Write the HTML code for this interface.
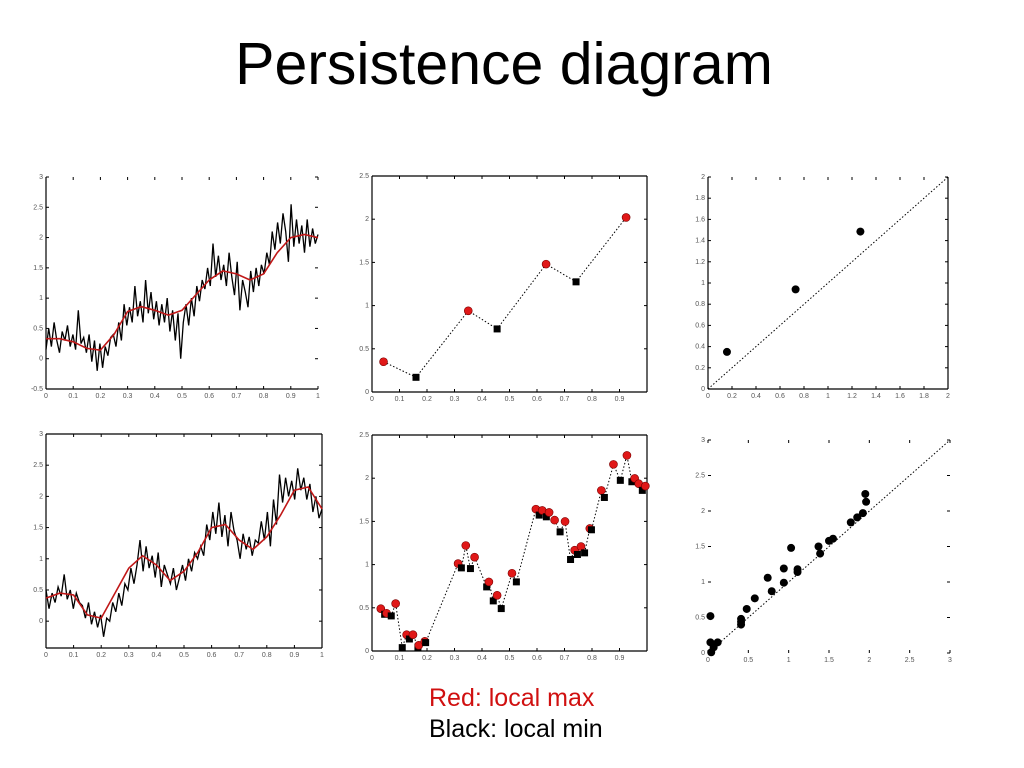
<!DOCTYPE html>
<html><head><meta charset="utf-8"><style>
body{margin:0;background:#fff;width:1024px;height:768px;overflow:hidden;font-family:"Liberation Sans",sans-serif}
svg{position:absolute;left:0;top:0}
</style></head><body>
<svg id="s" width="1024" height="768">
<text x="504" y="84" font-size="59" text-anchor="middle" fill="#000" font-family="Liberation Sans, sans-serif">Persistence diagram</text>
<text x="429" y="706" font-size="25" fill="#d01010" font-family="Liberation Sans, sans-serif">Red: local max</text>
<text x="429" y="737" font-size="25" fill="#000" font-family="Liberation Sans, sans-serif">Black: local min</text>
</svg>
<script>
// ---- data ----
const smooth1 = [0.33,0.33,0.28,0.17,0.14,0.4,0.78,0.86,0.8,0.72,0.8,1.05,1.3,1.45,1.4,1.3,1.4,1.75,2.0,2.05,2.0];
const noisy1 = [0.15,0.5,0.2,0.6,0.3,0.1,0.45,0.3,0.55,0.2,0.4,
0.15,0.8,0.25,0.35,0.1,0.4,-0.05,0.3,-0.2,0.25,
-0.15,0.2,0.05,0.35,0.4,0.2,0.6,0.3,0.9,0.55,
0.85,0.6,1.2,0.7,0.95,0.6,1.3,0.75,1.1,0.65,
0.95,0.55,0.9,0.6,1.0,0.45,0.8,0.3,0.75,0.0,
0.6,0.9,0.55,1.0,0.7,1.2,0.95,1.3,1.15,1.5,
1.2,1.9,1.35,1.7,1.3,1.55,1.2,1.75,1.35,1.05,
1.6,0.8,1.3,1.1,0.85,1.45,1.1,1.5,1.2,1.55,
1.4,1.75,1.55,2.1,1.8,2.25,1.9,2.4,2.1,1.6,
2.55,1.85,2.3,1.9,2.2,1.75,2.3,1.85,2.15,1.9,2.05];
const smooth4 = [0.37,0.45,0.42,0.1,0.05,0.45,0.85,1.05,0.9,0.65,0.8,1.1,1.5,1.55,1.3,1.15,1.35,1.7,2.1,2.15,1.8];
const noisy4 = [0.5,0.2,0.45,0.3,0.55,0.4,0.75,0.35,0.5,0.2,0.45,
0.3,0.25,0.05,0.3,-0.05,0.15,-0.1,0.1,-0.25,0.05,
0.0,0.3,0.15,0.45,0.25,0.6,0.5,0.85,0.6,0.9,
1.3,0.8,1.2,0.85,1.05,0.7,1.1,0.55,0.9,0.75,
0.6,0.85,0.5,0.7,0.9,0.65,1.0,0.8,1.1,1.0,
1.2,1.05,1.55,1.3,1.75,1.4,1.9,1.35,1.7,1.2,
1.75,1.45,1.3,1.0,1.4,1.15,1.35,1.05,1.3,1.25,
1.6,1.3,1.75,1.2,1.95,1.55,2.35,1.9,2.3,2.0,
2.25,1.95,2.45,2.1,2.3,1.95,2.2,1.75,2.0,1.65,1.8];
const ext2Type = ['R','B','R','B','R','B','R'];
const ext2X = [0.042,0.16,0.35,0.455,0.633,0.742,0.924];
const ext2Y = [0.35,0.17,0.94,0.73,1.48,1.275,2.02];
const ext5Type = ['R','B','R','B','R','B','R','B','R','B','R','R','B','R','B','R','B','R','B','R','B','R','B','R','B','R','B','R','B','R','R','B','R','B','R','B','R','B','R','B','R','B','R','B','R','B','R','R','B','R'];
const ext5X = [0.032,0.046,0.053,0.070,0.086,0.110,0.126,0.136,0.149,0.167,0.170,0.192,0.195,0.313,0.325,0.341,0.358,0.373,0.417,0.425,0.441,0.455,0.470,0.509,0.525,0.596,0.608,0.619,0.634,0.644,0.664,0.684,0.702,0.722,0.737,0.747,0.760,0.773,0.792,0.798,0.834,0.845,0.878,0.903,0.927,0.945,0.955,0.970,0.983,0.994];
const ext5Y = [0.49,0.425,0.437,0.406,0.549,0.039,0.189,0.139,0.189,0.046,0.066,0.112,0.097,1.012,0.962,1.221,0.954,1.086,0.742,0.800,0.580,0.645,0.491,0.900,0.800,1.642,1.573,1.627,1.553,1.604,1.515,1.379,1.499,1.059,1.167,1.117,1.209,1.136,1.418,1.403,1.859,1.777,2.160,1.975,2.264,1.959,1.998,1.936,1.859,1.909];
const birth3 = [0.158,0.73,1.27];
const death3 = [0.35,0.94,1.485];
const birth6 = [0.03,0.03,0.04,0.07,0.12,0.41,0.41,0.41,0.48,0.58,0.74,0.79,0.94,0.94,1.03,1.11,1.11,1.37,1.39,1.50,1.55,1.77,1.85,1.92,1.95,1.96];
const death6 = [0.52,0.15,0.01,0.08,0.15,0.48,0.40,0.44,0.62,0.77,1.06,0.87,1.19,0.99,1.48,1.18,1.14,1.50,1.40,1.58,1.61,1.84,1.91,1.97,2.24,2.13];
const ticks01 = [0,0.1,0.2,0.3,0.4,0.5,0.6,0.7,0.8,0.9,1];
const ticksY1 = [-0.5,0,0.5,1,1.5,2,2.5,3];
const ticksY2 = [0,0.5,1,1.5,2,2.5];
const ticks02 = [0,0.2,0.4,0.6,0.8,1,1.2,1.4,1.6,1.8,2];
const ticksY4 = [0,0.5,1,1.5,2,2.5,3];
const ticks03 = [0,0.5,1,1.5,2,2.5,3];

const NS='http://www.w3.org/2000/svg';
const svg=document.getElementById('s');
function mk(tag,attrs,parent){const e=document.createElementNS(NS,tag);for(const k in attrs)e.setAttribute(k,attrs[k]);(parent||svg).appendChild(e);return e;}
function panel(name,L,R,T,B,x0,x1,y0,y1,box){
  const g=mk('g',{});
  
  
  const sx=v=>L+(v-x0)/(x1-x0)*(R-L), sy=v=>B-(v-y0)/(y1-y0)*(B-T);
  const sides={l:[L,T,L,B],b:[L,B,R,B],r:[R,T,R,B],t:[L,T,R,T]};
  for(const s of box){const c=sides[s];const ln=mk('line',{x1:c[0],y1:c[1],x2:c[2],y2:c[3],stroke:'#000','stroke-width':1.2},g);
    
    }
  return {g,sx,sy,L,R,T,B};
}
function ticks(p,xs,ys){
  xs.forEach(v=>{const x=p.sx(v);
    mk('line',{x1:x,y1:p.B,x2:x,y2:p.B-3,stroke:'#000'},p.g);
    mk('line',{x1:x,y1:p.T,x2:x,y2:p.T+3,stroke:'#000'},p.g);
    const t=mk('text',{x:x,y:p.B+9,'font-size':7,'text-anchor':'middle',fill:'#555'},p.g);t.textContent=String(v);
    
    });
  ys.forEach(v=>{const y=p.sy(v);
    mk('line',{x1:p.L,y1:y,x2:p.L+3,y2:y,stroke:'#000'},p.g);
    mk('line',{x1:p.R,y1:y,x2:p.R-3,y2:y,stroke:'#000'},p.g);
    const t=mk('text',{x:p.L-3,y:y+2,'font-size':7,'text-anchor':'end',fill:'#555'},p.g);t.textContent=String(v);
    
    });
}
function line(p,xs,ys,attrs,name){
  const pts=xs.map((x,i)=>p.sx(x).toFixed(1)+','+p.sy(ys[i]).toFixed(1)).join(' ');
  const e=mk('polyline',Object.assign({points:pts,fill:'none'},attrs),p.g);
  
  
}
function idxX(arr){return arr.map((_,i)=>i/(arr.length-1));}
function extrema(p,types,xs,ys){
  line(p,xs,ys,{stroke:'#000','stroke-width':1,'stroke-dasharray':'1.5,2'},'extrema-path');
  types.forEach((t,i)=>{const x=p.sx(xs[i]),y=p.sy(ys[i]);let e;
    if(t==='R'){e=mk('circle',{cx:x,cy:y,r:4,fill:'#e01818',stroke:'#7a0000','stroke-width':0.6},p.g);
      }
    else{e=mk('rect',{x:x-3.5,y:y-3.5,width:7,height:7,fill:'#000'},p.g);
      }
    });
}
function pd(p,bs,ds,lo,hi){
  line(p,[lo,hi],[lo,hi],{stroke:'#000','stroke-width':1,'stroke-dasharray':'1.5,2'},'diagonal');
  bs.forEach((b,i)=>{const c=mk('circle',{cx:p.sx(b),cy:p.sy(ds[i]),r:4,fill:'#000'},p.g);
    
    });
}
let p=panel('signal-plot-top',46,318,177,389,0,1,-0.5,3,['l','b']);
ticks(p,ticks01,ticksY1);
line(p,idxX(noisy1),noisy1,{stroke:'#000','stroke-width':1.3},'noisy-signal');
line(p,idxX(smooth1),smooth1,{stroke:'#c01818','stroke-width':1.6},'smoothed-signal');
p=panel('extrema-plot-top',372,647,176,392,0,1,0,2.5,['l','b','t','r']);
ticks(p,ticks01.slice(0,10),ticksY2);
extrema(p,ext2Type,ext2X,ext2Y);
p=panel('persistence-diagram-top',708,948,177,389,0,2,0,2,['l','b','r']);
ticks(p,ticks02,ticks02);
pd(p,birth3,death3,0,2);
p=panel('signal-plot-bottom',46,322,434,648,0,1,-0.43,3,['l','b','t','r']);
ticks(p,ticks01,ticksY4);
line(p,idxX(noisy4),noisy4,{stroke:'#000','stroke-width':1.3},'noisy-signal');
line(p,idxX(smooth4),smooth4,{stroke:'#c01818','stroke-width':1.6},'smoothed-signal');
p=panel('extrema-plot-bottom',372,647,435,651,0,1,0,2.5,['l','b','t','r']);
ticks(p,ticks01.slice(0,10),ticksY2);
extrema(p,ext5Type,ext5X,ext5Y);
p=panel('persistence-diagram-bottom',708,950,440,653,0,3,0,3,[]);
ticks(p,ticks03,ticks03);
pd(p,birth6,death6,0,3);
</script>
</body></html>
